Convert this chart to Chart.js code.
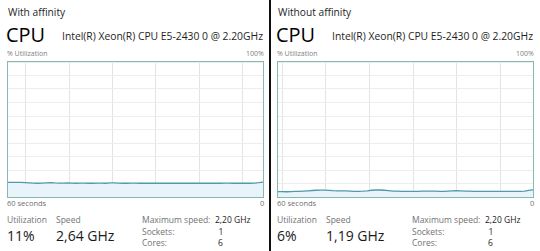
<!DOCTYPE html>
<html>
<head>
<meta charset="utf-8">
<script src="https://cdn.jsdelivr.net/npm/chart.js@4/dist/chart.umd.min.js"></script>
<style>
  html, body { margin: 0; padding: 0; background: #ffffff; }
  #page { position: relative; width: 540px; height: 251px; overflow: hidden; background: #fff;
          font-family: "Open Sans", "Noto Sans", sans-serif; }
  .t { position: absolute; white-space: nowrap; line-height: 1; }
  .box { position: absolute; box-sizing: border-box; border: 1px solid #86b9b5; }
  .box canvas { display: block; }
  #sep { position: absolute; left: 269px; top: 0; width: 2px; height: 251px; background: #111; }
</style>
</head>
<body>
<div id="page">
  <div id="sep"></div>
  <div class="box" id="boxL" style="left:7px; top:61px; width:257px; height:137px;"><canvas id="cL" width="255" height="135"></canvas></div>
  <div class="box" id="boxR" style="left:277px; top:61px; width:257px; height:137px;"><canvas id="cR" width="255" height="135"></canvas></div>
</div>
<script>
// ---- data ----
const panelTitles = ["With affinity", "Without affinity"];
const processorName = "Intel(R) Xeon(R) CPU E5-2430 0 @ 2.20GHz";
const secondsAgo = [60,59,58,57,56,55,54,53,52,51,50,49,48,47,46,45,44,43,42,41,40,39,38,37,36,35,34,33,32,31,30,29,28,27,26,25,24,23,22,21,20,19,18,17,16,15,14,13,12,11,10,9,8,7,6,5,4,3,2,1,0];
const utilWithAffinity = [10.8,10.9,10.9,10.8,10.7,10.5,10.3,10.2,10.3,10.5,10.6,10.4,10.3,10.3,10.4,10.3,10.2,10.3,10.3,10.2,10.2,10.3,10.3,10.2,10.4,10.5,10.3,10.2,10.2,10.3,10.3,10.2,10.2,10.3,10.2,10.2,10.3,10.2,10.2,10.3,10.2,10.2,10.2,10.3,10.2,10.2,10.3,10.2,10.3,10.2,10.2,10.3,10.3,10.2,10.2,10.3,10.2,10.2,10.3,10.6,11.0];
const utilWithoutAffinity = [4.0,4.0,3.9,4.0,4.1,4.2,4.4,4.6,4.8,5.0,5.1,5.1,4.9,4.7,4.6,4.6,4.5,4.4,4.2,4.1,4.3,4.6,5.0,5.2,5.2,5.0,4.7,4.4,4.3,4.2,4.1,4.1,4.2,4.2,4.3,4.4,4.4,4.3,4.2,4.2,4.4,4.6,4.7,4.6,4.4,4.3,4.2,4.1,4.1,4.2,4.2,4.1,4.1,4.1,4.2,4.2,4.1,4.1,4.4,4.9,5.3];
const utilizationText = ["11%", "6%"];
const speedText = ["2,64 GHz", "1,19 GHz"];
const maxSpeedText = ["2,20 GHz", "2,20 GHz"];
const socketsText = ["1", "1"];
const coresText = ["6", "6"];
const axisTop = "100%", axisBottomLeft = "60 seconds", axisBottomRight = "0", axisLabel = "% Utilization";

// ---- text layout ----
const page = document.getElementById('page');
function place(text, x, baseline, size, color, align, weight) {
  const d = document.createElement('div');
  d.className = 't';
  d.textContent = text;
  d.style.fontSize = size + 'px';
  d.style.color = color;
  if (weight) d.style.fontWeight = weight;
  d.style.top = (baseline - 0.888 * size) + 'px';
  page.appendChild(d);
  if (align === 'right') {
    d.style.left = (x - d.offsetWidth) + 'px';
  } else {
    d.style.left = x + 'px';
  }
  return d;
}
function fitWidth(d, w) {
  const cur = d.getBoundingClientRect().width;
  if (cur > 0) {
    d.style.transformOrigin = '0 0';
    d.style.transform = 'scaleX(' + (w / cur) + ')';
  }
}

[0, 1].forEach(p => {
  const o = p * 270;
  place(panelTitles[p], o + 8, 15.8, 10.2, '#1e1e1e');
  const c = place("CPU", o + 6, 42.3, 20, '#000');
  fitWidth(c, 39);
  const n = place(processorName, o + 62, 40.8, 10.5, '#1e1e1e');
  fitWidth(n, 201);
  place(axisLabel, o + 7, 56.6, 7, '#808080');
  place(axisTop, o + 264, 56.6, 7, '#808080', 'right');
  place(axisBottomLeft, o + 7, 206.6, 7.5, '#707070');
  place(axisBottomRight, o + 264, 206.6, 7.5, '#707070', 'right');
  place("Utilization", o + 7, 224, 8.5, '#727272');
  place("Speed", o + 56, 224, 8.5, '#727272');
  place(utilizationText[p], o + 7, 241.8, 14, '#1a1a1a');
  place(speedText[p], o + 56, 241.8, 14, '#1a1a1a');
  place("Maximum speed:", o + 142, 224, 8.5, '#727272');
  place(maxSpeedText[p], o + 215, 224, 8.5, '#1a1a1a');
  place("Sockets:", o + 142, 235.5, 8.5, '#727272');
  place(socketsText[p], o + 218.5, 235.5, 8.5, '#1a1a1a');
  place("Cores:", o + 142, 246.8, 8.5, '#727272');
  place(coresText[p], o + 218, 246.8, 8.5, '#1a1a1a');
});

// ---- charts ----
function makeChart(id, values, gridTicks) {
  return new Chart(document.getElementById(id), {
    type: 'line',
    data: {
      datasets: [{
        data: secondsAgo.map((s, i) => ({ x: s, y: values[i] })),
        borderColor: '#4f9ba6',
        borderWidth: 1.3,
        backgroundColor: '#e9f4fa',
        fill: 'origin',
        pointRadius: 0,
        tension: 0
      }]
    },
    options: {
      responsive: false,
      animation: false,
      devicePixelRatio: 1,
      layout: { padding: 0 },
      plugins: { legend: { display: false }, tooltip: { enabled: false } },
      scales: {
        x: {
          type: 'linear', reverse: true, min: 0, max: 60,
          ticks: { display: false },
          grid: { drawTicks: false, color: '#e4e4e4', lineWidth: 1 },
          border: { display: false },
          afterBuildTicks: (axis) => { axis.ticks = gridTicks.map(v => ({ value: v })); }
        },
        y: {
          min: 0, max: 100,
          ticks: { display: false, stepSize: 10 },
          grid: { drawTicks: false, color: '#ededed', lineWidth: 1 },
          border: { display: false }
        }
      }
    }
  });
}
makeChart('cL', utilWithAffinity, [55.8, 45.6, 35.4, 25.2, 15.0, 4.8]);
makeChart('cR', utilWithoutAffinity, [59.0, 48.75, 38.4, 28.2, 18.0, 7.7]);
</script>
</body>
</html>
